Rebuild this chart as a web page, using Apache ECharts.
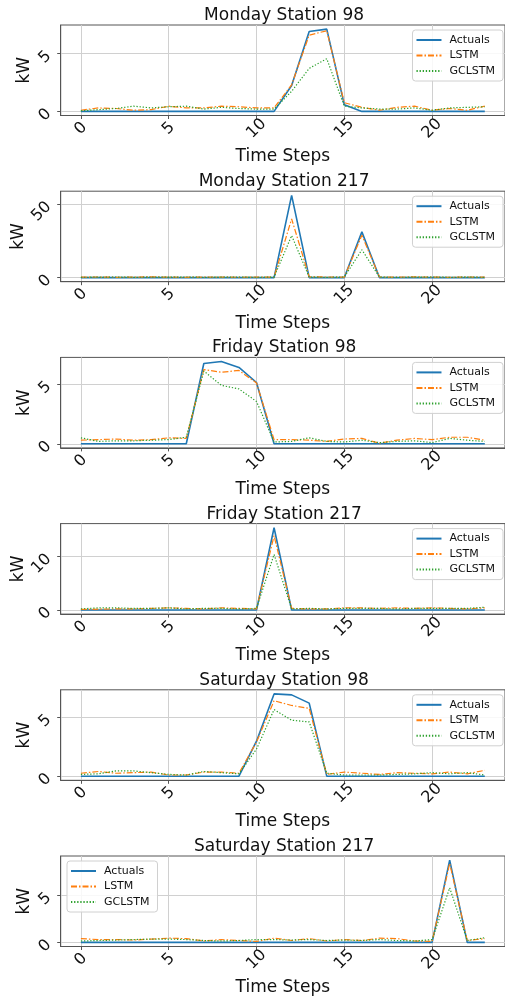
<!DOCTYPE html>
<html>
<head>
<meta charset="utf-8">
<script src="https://cdn.jsdelivr.net/npm/echarts@6/dist/echarts.min.js"></script>
<style>
html,body{margin:0;padding:0;background:#fff;}
#chart{width:505px;height:999px;}
</style>
</head>
<body>
<div id="chart"></div>
<script>
// ---- data ----
const steps = [0,1,2,3,4,5,6,7,8,9,10,11,12,13,14,15,16,17,18,19,20,21,22,23];
const xTicks = [0,5,10,15,20];
const seriesNames = ['Actuals','LSTM','GCLSTM'];
const titles = ['Monday Station 98','Monday Station 217','Friday Station 98','Friday Station 217','Saturday Station 98','Saturday Station 217'];
const yTicks = [[0,5],[0,50],[0,5],[0,10],[0,5],[0,5]];

const actM98  = [0,0,0,0,0,0,0,0,0,0,0,0,2.24,6.92,7.12,0.58,0,0,0,0,0,0,0,0];
const lstmM98 = [0.1,0.3,0.25,0.1,0.15,0.45,0.3,0.3,0.45,0.4,0.3,0.3,2.3,6.6,6.98,0.75,0.35,0.1,0.35,0.45,0.1,0.25,0.1,0.45];
const gcM98   = [0.05,0.15,0.25,0.45,0.3,0.4,0.45,0.2,0.35,0.25,0.2,0.2,1.74,3.72,4.56,0.45,0.3,0.2,0.2,0.3,0.1,0.3,0.35,0.4];

const actM217  = [0,0,0,0,0,0,0,0,0,0,0,0,56.2,0,0,0,31.2,0,0,0,0,0,0,0];
const lstmM217 = [0.3,0.4,0.2,0.3,0.5,0.3,0.2,0.4,0.3,0.2,0.3,0.4,40.1,0.5,0.4,0.3,28.9,0.4,0.3,0.5,0.3,0.2,0.4,0.3];
const gcM217   = [0.2,0.3,0.4,0.2,0.3,0.3,0.4,0.2,0.3,0.4,0.2,0.3,28.7,0.3,0.2,0.4,19.0,0.3,0.2,0.3,0.4,0.2,0.3,0.2];

const actF98  = [0,0,0,0,0,0,0,6.73,6.9,6.4,5.14,0,0,0,0,0,0,0,0,0,0,0,0,0];
const lstmF98 = [0.3,0.35,0.4,0.3,0.35,0.5,0.45,6.23,6.0,6.15,5.1,0.35,0.35,0.3,0.2,0.4,0.45,0.05,0.3,0.45,0.35,0.55,0.55,0.3];
const gcF98   = [0.5,0.2,0.25,0.25,0.3,0.35,0.55,6.1,4.9,4.6,3.55,0.15,0.2,0.5,0.2,0.15,0.3,0.1,0.2,0.25,0.1,0.45,0.3,0.2];

const actF217  = [0,0,0,0,0,0,0,0,0,0,0,15.4,0,0,0,0,0,0,0,0,0,0,0,0];
const lstmF217 = [0.1,0.15,0.2,0.2,0.3,0.4,0.3,0.2,0.4,0.3,0.2,13.9,0.3,0.2,0.2,0.4,0.4,0.3,0.4,0.3,0.4,0.3,0.2,0.4];
const gcF217   = [0.2,0.4,0.4,0.3,0.3,0.4,0.2,0.3,0.3,0.2,0.3,10.4,0.2,0.3,0.2,0.3,0.3,0.3,0.2,0.3,0.3,0.3,0.3,0.5];

const actS98  = [0,0,0,0,0,0,0,0,0,0,2.97,6.98,6.9,6.2,0,0,0,0,0,0,0,0,0,0];
const lstmS98 = [0.25,0.4,0.25,0.3,0.35,0.1,0.1,0.35,0.35,0.25,2.9,6.4,6.0,5.75,0.15,0.35,0.25,0.15,0.3,0.25,0.2,0.35,0.2,0.5];
const gcS98   = [0.15,0.2,0.45,0.45,0.3,0.15,0.1,0.4,0.3,0.2,2.3,5.65,4.75,4.6,0.25,0.1,0.1,0.1,0.15,0.2,0.3,0.2,0.3,0.1];

const actS217  = [0,0,0,0,0,0,0,0,0,0,0,0,0,0,0,0,0,0,0,0,0,8.75,0,0];
const lstmS217 = [0.4,0.3,0.3,0.25,0.35,0.45,0.4,0.15,0.3,0.2,0.1,0.45,0.2,0.4,0.15,0.3,0.2,0.45,0.4,0.15,0.1,8.4,0.2,0.4];
const gcS217   = [0.15,0.2,0.25,0.3,0.35,0.35,0.3,0.2,0.15,0.2,0.3,0.3,0.25,0.3,0.2,0.25,0.2,0.3,0.2,0.15,0.3,5.8,0.2,0.5];

const panels = [
  [actM98, lstmM98, gcM98],
  [actM217, lstmM217, gcM217],
  [actF98, lstmF98, gcF98],
  [actF217, lstmF217, gcF217],
  [actS98, lstmS98, gcS98],
  [actS217, lstmS217, gcS217]
];

// ---- styles / layout ----
const FONT = 'DejaVu Sans';
const colors = ['#1f77b4', '#ff7f0e', '#2ca02c'];
const lineStyles = [
  {width: 1.6, type: 'solid'},
  {width: 1.2, type: [6, 2, 1.5, 2]},
  {width: 1.2, type: [1.3, 1.8]}
];
const gridLeft = 60.7, gridRight = -2.5, gridH = 90.5;
const gridTops = [25, 191.2, 357.4, 523.6, 689.8, 856];
const plotCenterX = gridLeft + (505 - gridLeft - gridRight) / 2;
const spine = '#555';
const gridColor = '#d0d0d0';

const margin = v => 0.05 * (v.max - v.min);

const option = {
  animation: false,
  backgroundColor: '#fff',
  title: [], grid: [], xAxis: [], yAxis: [], legend: [], series: []
};

panels.forEach((p, i) => {
  const top = gridTops[i];
  const longLabel = Math.max(...yTicks[i].map(t => String(t).length)) > 1;
  option.title.push({
    text: titles[i],
    left: plotCenterX, top: top - 18, padding: 0,
    textAlign: 'center',
    textStyle: {fontFamily: FONT, fontSize: 17, fontWeight: 'normal', color: '#111'}
  });
  option.grid.push({
    left: gridLeft, right: gridRight, top: top, height: gridH,
    show: true, borderColor: spine, borderWidth: 1, backgroundColor: 'transparent'
  });
  option.xAxis.push({
    type: 'value', gridIndex: i,
    min: v => v.min - margin(v), max: v => v.max + margin(v),
    name: 'Time Steps', nameLocation: 'middle', nameGap: 33, nameMoveOverlap: false,
    nameTextStyle: {fontFamily: FONT, fontSize: 17, color: '#111'},
    axisLine: {show: true, onZero: false, lineStyle: {color: spine, width: 1}},
    axisTick: {show: true, length: 3.5, customValues: xTicks, lineStyle: {color: spine}},
    axisLabel: {customValues: xTicks, rotate: 45, align: 'center', verticalAlign: 'middle', margin: 13,
      fontFamily: FONT, fontSize: 16, color: '#111'},
    splitLine: {show: true, lineStyle: {color: gridColor, width: 1}}
  });
  option.yAxis.push({
    type: 'value', gridIndex: i,
    min: v => v.min - margin(v), max: v => v.max + margin(v),
    name: 'kW', nameLocation: 'middle', nameGap: longLabel ? 34 : 27.5, nameRotate: 90, nameMoveOverlap: false,
    nameTextStyle: {fontFamily: FONT, fontSize: 17, color: '#111'},
    axisLine: {show: true, onZero: false, lineStyle: {color: spine, width: 1}},
    axisTick: {show: true, length: 3.5, customValues: yTicks[i], lineStyle: {color: spine}},
    axisLabel: {customValues: yTicks[i], rotate: 45, align: 'right', verticalAlign: 'middle', margin: 12,
      fontFamily: FONT, fontSize: 16, color: '#111'},
    splitLine: {show: true, lineStyle: {color: gridColor, width: 1}}
  });
  const lg = {
    orient: 'vertical',
    data: seriesNames,
    top: top + 5,
    itemWidth: 25, itemHeight: 11, itemGap: 4.5,
    padding: [4.5, 8, 4.5, 3],
    backgroundColor: 'rgba(255,255,255,0.85)',
    borderColor: '#d0d0d0', borderWidth: 1, borderRadius: 3,
    selectedMode: false,
    itemStyle: {opacity: 0, borderWidth: 0},
    textStyle: {fontFamily: FONT, fontSize: 11, color: '#111', padding: [0, 0, 0, 3]}
  };
  if (i === 5) { lg.left = 67; } else { lg.right = 2; }
  option.legend.push(lg);
  p.forEach((arr, k) => {
    option.series.push({
      type: 'line', name: seriesNames[k],
      xAxisIndex: i, yAxisIndex: i,
      data: steps.map((s, j) => [s, arr[j]]),
      symbol: 'none', showSymbol: false,
      color: colors[k],
      lineStyle: Object.assign({color: colors[k]}, lineStyles[k]),
      emphasis: {disabled: true},
      z: 2 + k
    });
  });
});

const chart = echarts.init(document.getElementById('chart'), null, {renderer: 'canvas'});
chart.setOption(option);
</script>
</body>
</html>
